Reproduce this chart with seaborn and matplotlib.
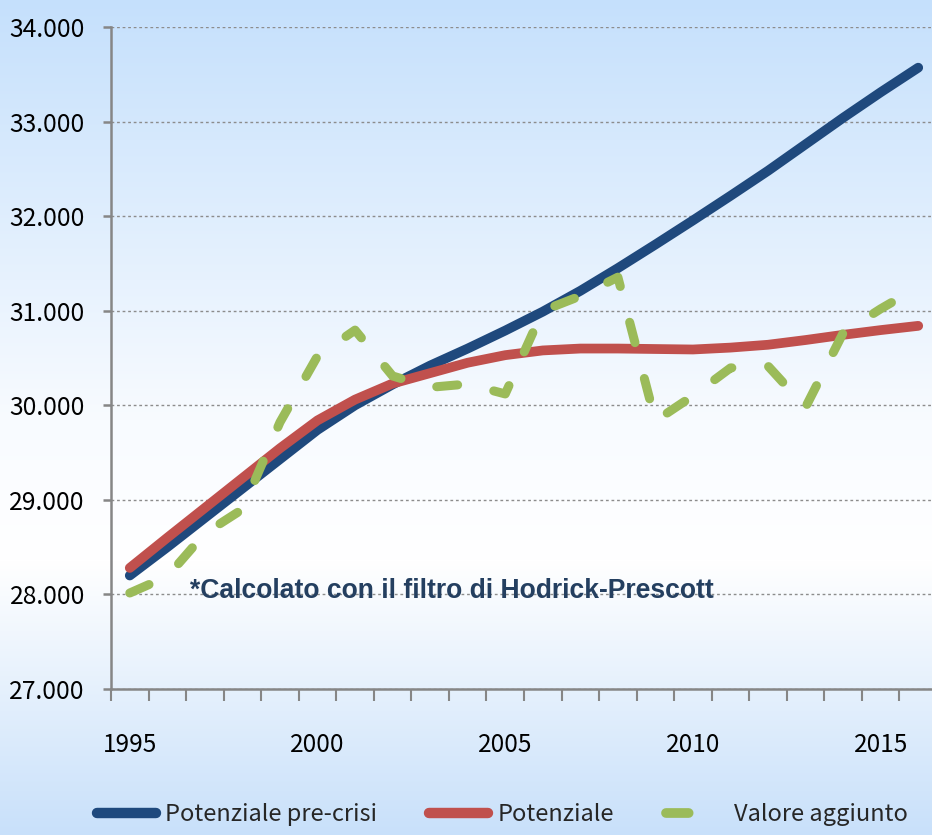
import numpy as np
import pandas as pd
import matplotlib
matplotlib.use("Agg")
import matplotlib.pyplot as plt
from matplotlib.lines import Line2D
from matplotlib.ticker import FixedLocator, FuncFormatter
import seaborn as sns

# values (migliaia)
years = list(range(1995, 2017))
pre_crisi = [28200, 28500, 28810, 29120, 29430, 29740, 30000, 30220, 30420, 30600, 30790,
             30990, 31210, 31450, 31700, 31955, 32215, 32480, 32760, 33040, 33310, 33570]
potenziale = [28280, 28600, 28915, 29230, 29545, 29840, 30060, 30230, 30340, 30450, 30530,
              30580, 30600, 30600, 30595, 30590, 30610, 30640, 30690, 30745, 30795, 30840]
valore_aggiunto = [28015, 28190, 28645, 28900, 29820, 30520, 30795, 30310, 30190, 30225, 30120,
                   31000, 31155, 31355, 29835, 30100, 30395, 30415, 29980, 30765, 31020, 31250]
series_names = ["Potenziale pre-crisi", "Potenziale", "Valore aggiunto"]
series_colors = ["#1F497D", "#C0504D", "#9BBB59"]
year_labels = [1995, 2000, 2005, 2010, 2015]
y_ticks = [27000, 28000, 29000, 30000, 31000, 32000, 33000, 34000]
note = "*Calcolato con il filtro di Hodrick-Prescott"

df = pd.DataFrame({
    "anno": years * 3,
    "valore": pre_crisi + potenziale + valore_aggiunto,
    "serie": [n for n in series_names for _ in years],
})

sns.set_theme(style="ticks")
# narrow sans for ticks and legend (close to Calibri)
plt.rcParams["font.family"] = ["Noto Sans CJK JP", "DejaVu Sans"]

fig = plt.figure(figsize=(9.32, 8.35), dpi=100)

# gradient background: light blue at top and bottom, white in the middle
bg = fig.add_axes([0, 0, 1, 1], zorder=-10)
stops_y = [0, 420, 560, 835]
stops_c = np.array([[197, 224, 252], [248, 251, 255], [255, 255, 255], [200, 224, 250]]) / 255
rows = np.arange(835)
grad = np.stack([np.interp(rows, stops_y, stops_c[:, k]) for k in range(3)], axis=1)
bg.imshow(grad[:, None, :], aspect="auto", extent=[0, 1, 0, 1])
bg.axis("off")

ax = fig.add_axes([111 / 932, 146 / 835, 826 / 932, 662 / 835])
ax.set_facecolor("none")

sns.lineplot(data=df, x="anno", y="valore", hue="serie", style="serie",
             palette=dict(zip(series_names, series_colors)),
             dashes={series_names[0]: "", series_names[1]: "", series_names[2]: (2.33, 4.1)},
             linewidth=7, legend=False, sort=False, ax=ax)
for line in ax.lines:
    line.set_solid_capstyle("round")
    line.set_dash_capstyle("round")
ax.lines[2].set_linewidth(6.5)

ax.set_xlim(1994.5, 2016.5)
ax.set_ylim(27000, 34000)
ax.set_xlabel("")
ax.set_ylabel("")

ax.set_xticks(year_labels)
ax.xaxis.set_minor_locator(FixedLocator(np.arange(1994.5, 2017, 1)))
ax.tick_params(axis="x", which="major", length=0, pad=31, labelsize=17.5, labelcolor="black")
ax.tick_params(axis="x", which="minor", length=8.6, width=1.5, color="#868686", direction="out")
ax.set_yticks(y_ticks)
ax.yaxis.set_major_formatter(FuncFormatter(lambda v, p: f"{int(v):,}".replace(",", ".")))
ax.tick_params(axis="y", length=5.8, width=1.8, color="#868686", pad=13, labelsize=17.8,
               labelcolor="black")

ax.yaxis.grid(True, linestyle=(0, (2, 2)), color="#8c8c8c", linewidth=1)
ax.xaxis.grid(False)
for side in ["top", "right"]:
    ax.spines[side].set_visible(False)
for side in ["left", "bottom"]:
    ax.spines[side].set_color("#868686")
    ax.spines[side].set_linewidth(1.8)

ax.text(0.096, 0.148, note, transform=ax.transAxes, fontsize=19.1, fontweight="bold",
        color="#243F60", family=["Liberation Sans", "DejaVu Sans"], va="center", ha="left")

handles = [Line2D([], [], color=series_colors[0], lw=7.5, solid_capstyle="round"),
           Line2D([], [], color=series_colors[1], lw=7.5, solid_capstyle="round"),
           Line2D([], [], color=series_colors[2], lw=7, dashes=(2.33, 4.1),
                  dash_capstyle="round")]
fig.legend(handles, series_names, loc="center", bbox_to_anchor=(0.539, 0.024), ncol=3,
           frameon=False, fontsize=17, handlelength=2.5, handletextpad=0.4,
           columnspacing=2.2, borderpad=0, borderaxespad=0)

fig.savefig("out.png", dpi=100)
